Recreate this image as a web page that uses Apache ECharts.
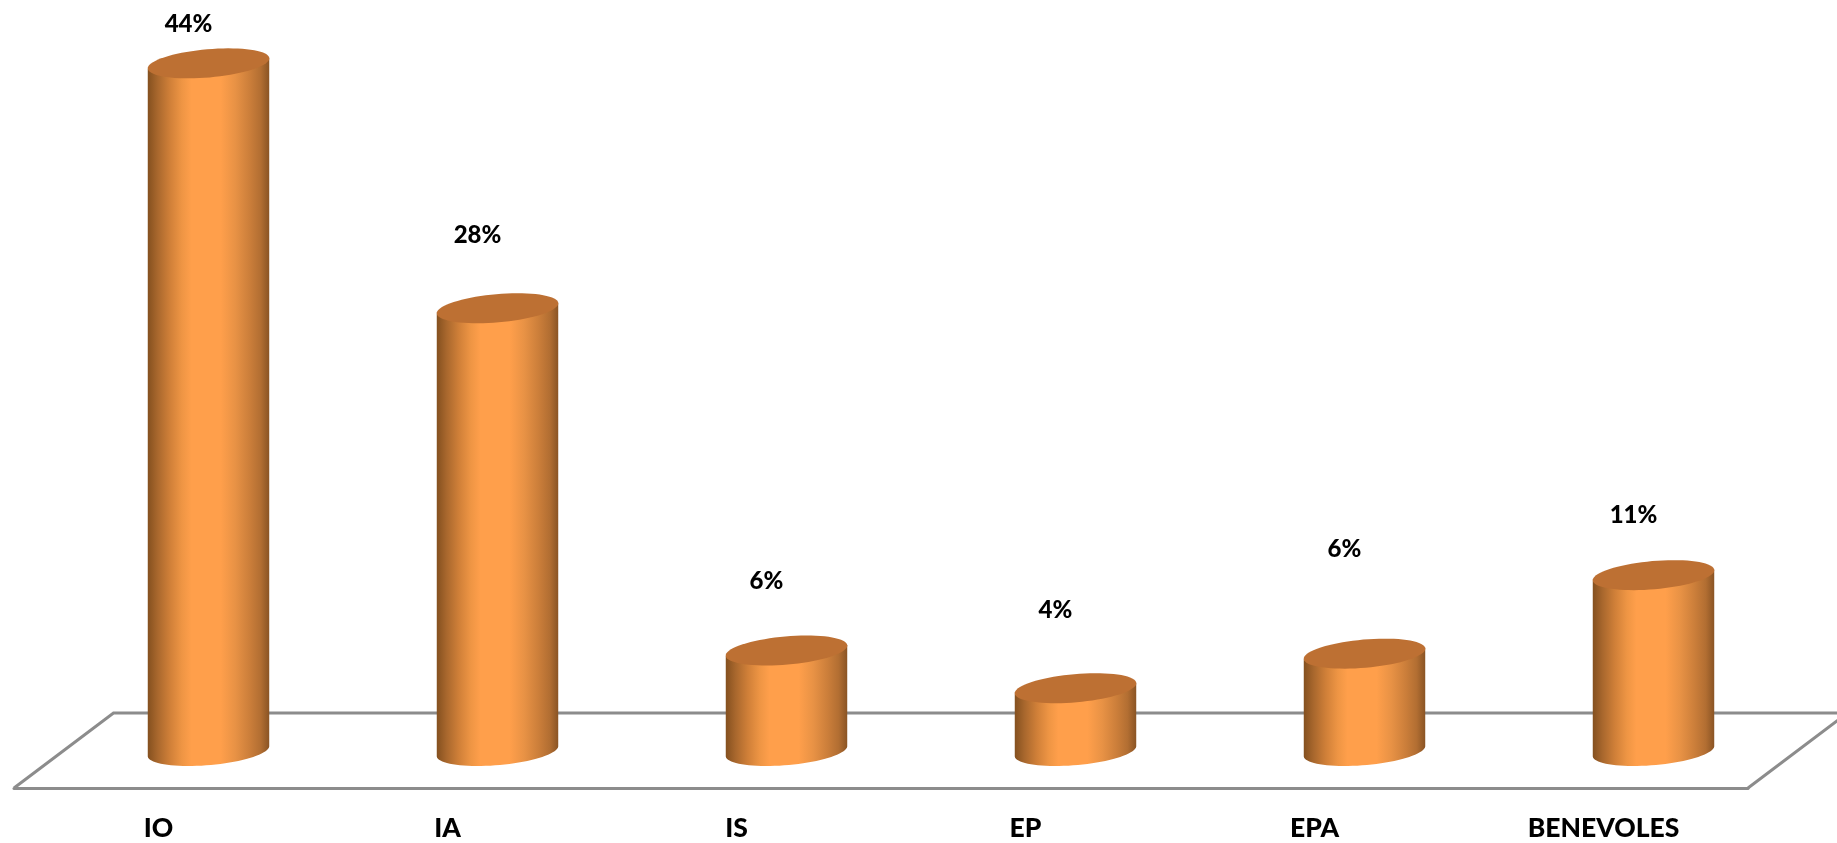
<!DOCTYPE html>
<html><head><meta charset="utf-8">
<style>html,body{margin:0;padding:0;background:#fff}#c{width:1837px;height:843px}</style>
<script src="https://cdn.jsdelivr.net/npm/echarts@6/dist/echarts.min.js"></script>
</head><body><div id="c"></div>
<script>
const categories = ['IO', 'IA', 'IS', 'EP', 'EPA', 'BENEVOLES'];
const shares = [43.8, 28.2, 6.4, 4.0, 6.2, 11.2];

// layout of the pseudo-3D drawing (pixels)
const DEPTH_X = 99.5, DEPTH_Y = 75, SHIFT_X = 50, SHIFT_Y = 37;
const ELL_A = 61, ELL_B = 14.1, ELL_TILT = 0.0867;
const LABEL_DX = -20;
const LABEL_LIFT = [39, 73, 69, 78, 104, 60];
const FONT = 'Lato';

const bodyFill = {
  type: 'linear', x: 0, y: 0, x2: 1, y2: 0,
  colorStops: [
    { offset: 0, color: '#84501F' }, { offset: 0.08, color: '#A8672D' },
    { offset: 0.18, color: '#CF7F38' }, { offset: 0.28, color: '#EE9544' },
    { offset: 0.36, color: '#FF9F4B' }, { offset: 0.6, color: '#FF9F4B' },
    { offset: 0.72, color: '#E89245' }, { offset: 0.84, color: '#CB7E3A' },
    { offset: 0.93, color: '#B26E32' }, { offset: 1, color: '#8A5424' }
  ]
};

function ellipsePoint(cx, cy, t) {
  const c = Math.cos(ELL_TILT), s = Math.sin(ELL_TILT);
  const ex = ELL_A * Math.cos(t), ey = ELL_B * Math.sin(t);
  return [cx + ex * c + ey * s, cy - ex * s + ey * c];
}
function arc(cx, cy, from, to, n) {
  const pts = [];
  for (let i = 0; i <= n; i++) pts.push(ellipsePoint(cx, cy, from + (to - from) * i / n));
  return pts;
}

function renderCylinder(params, api) {
  const i = params.dataIndex;
  const top = api.coord([api.value(0), api.value(1)]);
  const base = api.coord([api.value(0), 0]);
  const cx = base[0] + SHIFT_X, by = base[1] - SHIFT_Y, ty = top[1] - SHIFT_Y;
  // silhouette tangent parameter of the tilted ellipse
  const t0 = Math.atan2(-ELL_B * Math.sin(ELL_TILT), ELL_A * Math.cos(ELL_TILT));
  const body = arc(cx, by, t0, t0 + Math.PI, 40);   // lower rim, right to left
  body.push(ellipsePoint(cx, ty, t0 + Math.PI), ellipsePoint(cx, ty, t0));
  return {
    type: 'group',
    children: [
      { type: 'polygon', shape: { points: body }, style: { fill: bodyFill } },
      { type: 'polygon', shape: { points: arc(cx, ty, 0, Math.PI * 2, 72) }, style: { fill: '#BD7033' } },
      { type: 'text', style: {
          text: Math.round(api.value(1)) + '%',
          x: cx + LABEL_DX, y: ty - LABEL_LIFT[i],
          align: 'center', verticalAlign: 'middle',
          font: '900 24px ' + FONT, fill: '#000'
      } }
    ]
  };
}

function renderFloor(params, api) {
  const g = params.coordSys;
  const fx = g.x, fr = g.x + g.width, fy = g.y + g.height;
  return {
    type: 'polyline',
    shape: { points: [[fx, fy], [fx + DEPTH_X, fy - DEPTH_Y], [fr + DEPTH_X, fy - DEPTH_Y], [fr, fy]] },
    style: { stroke: '#8C8C8C', lineWidth: 3, fill: null }
  };
}

const chart = echarts.init(document.getElementById('c'), null, { renderer: 'canvas' });
chart.setOption({
  animation: false,
  backgroundColor: '#fff',
  grid: { left: 14, right: 89, top: 3, bottom: 55 },
  xAxis: {
    type: 'category', data: categories,
    axisLine: { show: true, lineStyle: { color: '#8C8C8C', width: 3 } },
    axisTick: { show: false },
    axisLabel: { fontFamily: FONT, fontWeight: 900, fontSize: 26.5, color: '#000', margin: 27, interval: 0 }
  },
  yAxis: { type: 'value', min: 0, max: 50, show: false, splitLine: { show: false } },
  series: [
    { type: 'custom', name: 'floor', renderItem: renderFloor, data: [[0, 0]], z: 1, silent: true },
    { type: 'custom', name: 'share', renderItem: renderCylinder, encode: { x: 0, y: 1 }, z: 2,
      data: shares.map((v, i) => [i, v]) }
  ]
});
</script></body></html>
